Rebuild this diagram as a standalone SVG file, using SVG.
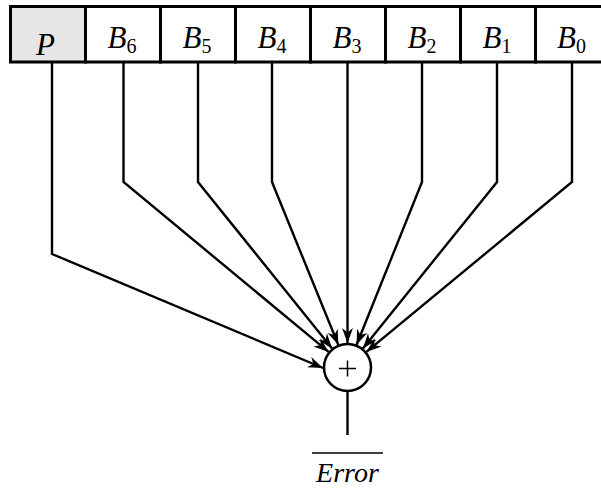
<svg xmlns="http://www.w3.org/2000/svg" width="601" height="492" viewBox="0 0 601 492">
  <style>
    .cell { fill: #ffffff; stroke: #000; stroke-width: 3; }
    .cell.parity { fill: #e6e6e6; }
    .lbl { font-family: "Liberation Serif", "Times New Roman", serif; font-style: italic; font-size: 31px; fill: #000; }
    .sub { font-style: normal; font-size: 20px; }
    .wire { fill: none; stroke: #000; stroke-width: 2.4; stroke-linejoin: miter; }
    .arrow { marker-end: url(#head); }
  </style>
  <defs>
    <marker id="head" markerUnits="userSpaceOnUse" viewBox="-16 -7 17 14" refX="0" refY="0" markerWidth="17" markerHeight="14" orient="auto">
      <path d="M0,0 L-15,-5.5 L-10.5,0 L-15,5.5 Z" fill="#000"/>
    </marker>
  </defs>

  <rect width="601" height="492" fill="#ffffff"/>

  <!-- register cells -->
  <g id="cell-P">
    <rect class="cell parity" x="10.5" y="6.5" width="75" height="55.5"/>
    <text class="lbl" x="36" y="55">P</text>
  </g>
  <g id="cell-B6">
    <rect class="cell" x="85.5" y="6.5" width="75" height="55.5"/>
    <text class="lbl" x="107.5" y="48">B<tspan class="sub" dy="5">6</tspan></text>
  </g>
  <g id="cell-B5">
    <rect class="cell" x="160.5" y="6.5" width="75" height="55.5"/>
    <text class="lbl" x="182.5" y="48">B<tspan class="sub" dy="5">5</tspan></text>
  </g>
  <g id="cell-B4">
    <rect class="cell" x="235.5" y="6.5" width="75" height="55.5"/>
    <text class="lbl" x="257.5" y="48">B<tspan class="sub" dy="5">4</tspan></text>
  </g>
  <g id="cell-B3">
    <rect class="cell" x="310.5" y="6.5" width="75" height="55.5"/>
    <text class="lbl" x="332.5" y="48">B<tspan class="sub" dy="5">3</tspan></text>
  </g>
  <g id="cell-B2">
    <rect class="cell" x="385.5" y="6.5" width="75" height="55.5"/>
    <text class="lbl" x="407.5" y="48">B<tspan class="sub" dy="5">2</tspan></text>
  </g>
  <g id="cell-B1">
    <rect class="cell" x="460.5" y="6.5" width="75" height="55.5"/>
    <text class="lbl" x="482.5" y="48">B<tspan class="sub" dy="5">1</tspan></text>
  </g>
  <g id="cell-B0">
    <rect class="cell" x="535.5" y="6.5" width="75" height="55.5"/>
    <text class="lbl" x="557" y="48">B<tspan class="sub" dy="5">0</tspan></text>
  </g>

  <!-- summing junction -->
  <g id="adder">
    <circle cx="347.5" cy="367.5" r="23.5" fill="#fff" stroke="#000" stroke-width="2.5"/>
    <path d="M339,368.5 H356 M347.5,360.5 V376.5" stroke="#000" stroke-width="1.5" fill="none"/>
  </g>

  <!-- output -->
  <g id="output">
    <line x1="312" y1="453" x2="383" y2="453" stroke="#000" stroke-width="1.6"/>
    <text class="lbl" x="347.5" y="482" text-anchor="middle" style="font-size:28px">Error</text>
  </g>

  <!-- connectors -->
  <g id="connectors">
    <polyline class="wire arrow" points="52,63 52,254 323,368"/>
    <polyline class="wire arrow" points="123.5,63 123.5,182 328.6,351.9"/>
    <polyline class="wire arrow" points="198,63 198,182 332.1,348.5"/>
    <polyline class="wire arrow" points="272,63 272,182 338.3,344.8"/>
    <polyline class="wire arrow" points="347.5,63 347.5,343"/>
    <polyline class="wire arrow" points="422,63 422,182 356.6,344.8"/>
    <polyline class="wire arrow" points="497,63 497,182 362.9,348.4"/>
    <polyline class="wire arrow" points="572,63 572,182 366.4,351.9"/>
    <line class="wire" x1="347.5" y1="391" x2="347.5" y2="435"/>
  </g>
</svg>
